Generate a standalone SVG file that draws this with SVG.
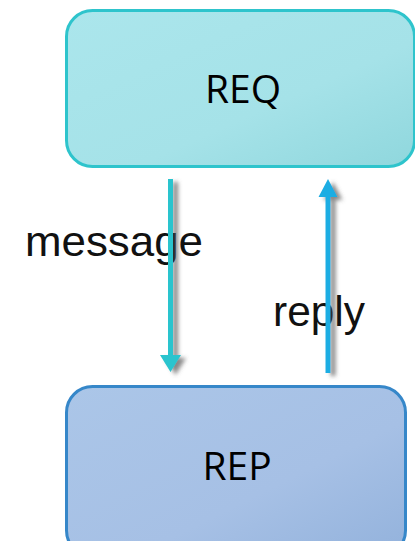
<svg xmlns="http://www.w3.org/2000/svg" width="415" height="541" viewBox="0 0 415 541">
  <style>
    .box-label { font-family: "Open Sans", "Noto Sans", sans-serif; font-size: 39px; fill: #000; text-anchor: middle; }
    .edge-label { font-family: "Liberation Sans", Arial, sans-serif; font-size: 42px; fill: #111; }
  </style>
  <defs>
    <linearGradient id="reqFill" x1="0" y1="0" x2="1" y2="1">
      <stop offset="0" stop-color="#abe6ec"/>
      <stop offset="0.6" stop-color="#a5e2e8"/>
      <stop offset="1" stop-color="#8fd7dd"/>
    </linearGradient>
    <linearGradient id="repFill" x1="0" y1="0" x2="1" y2="1">
      <stop offset="0" stop-color="#abc6e8"/>
      <stop offset="0.6" stop-color="#a6c0e5"/>
      <stop offset="1" stop-color="#93b2dc"/>
    </linearGradient>
    <filter id="shadow" x="-100%" y="-10%" width="300%" height="120%">
      <feGaussianBlur in="SourceAlpha" stdDeviation="2"/>
      <feOffset dx="5" dy="3" result="off"/>
      <feFlood flood-color="#555" flood-opacity="0.7"/>
      <feComposite in2="off" operator="in"/>
      <feMerge>
        <feMergeNode/>
        <feMergeNode in="SourceGraphic"/>
      </feMerge>
    </filter>
  </defs>

  <rect width="415" height="541" fill="#fff"/>

  <g id="req">
    <rect x="66.5" y="10.5" width="348" height="156" rx="26" fill="url(#reqFill)" stroke="#2ec4cc" stroke-width="3"/>
    <text class="box-label" x="243" y="103">REQ</text>
  </g>

  <g id="rep">
    <rect x="66.5" y="386.5" width="339" height="170" rx="26" fill="url(#repFill)" stroke="#3687c9" stroke-width="3"/>
    <text class="box-label" x="237" y="480">REP</text>
  </g>

  <g id="labels">
    <text class="edge-label" x="25" y="256" textLength="178" lengthAdjust="spacingAndGlyphs">message</text>
    <text class="edge-label" x="273" y="326" textLength="92" lengthAdjust="spacingAndGlyphs">reply</text>
  </g>

  <g id="connectors" filter="url(#shadow)">
    <path d="M168,179 H173 V355 H181 L170.5,372 L160,355 H168 Z" fill="#2bc4ce"/>
    <path d="M325.5,373 H330.5 V197 H337.5 L328,179 L318.5,197 H325.5 Z" fill="#1eade3"/>
  </g>
</svg>
